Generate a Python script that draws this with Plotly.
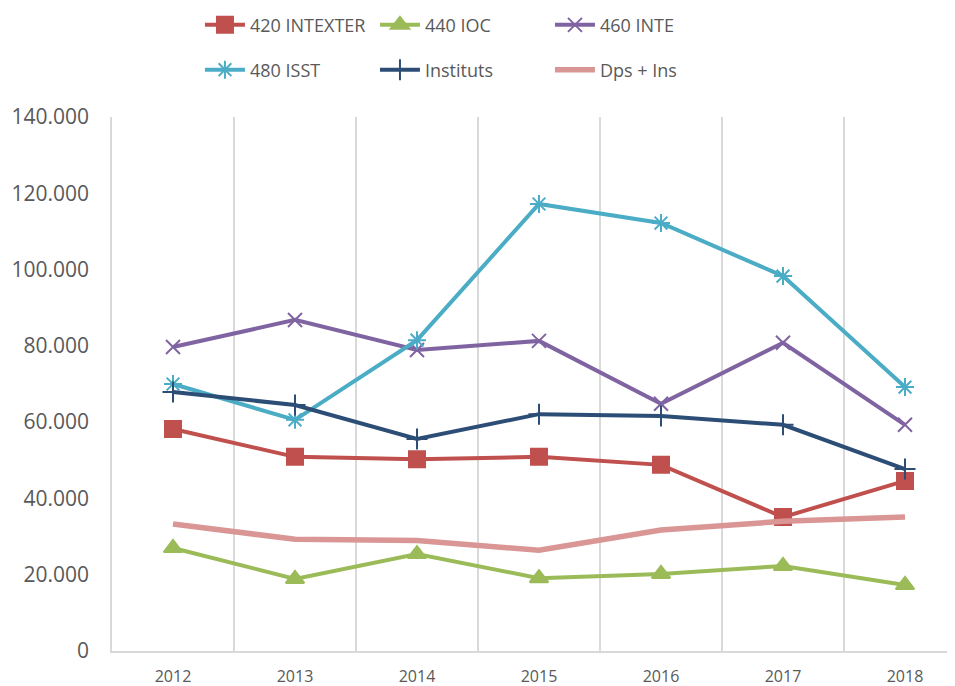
import plotly.graph_objects as go

years = ["2012", "2013", "2014", "2015", "2016", "2017", "2018"]
intexter_420 = [58200, 50900, 50300, 50900, 48800, 35100, 44600]
ioc_440 = [27000, 18900, 25400, 19100, 20200, 22300, 17300]
inte_460 = [79700, 86800, 78900, 81300, 64800, 80800, 59300]
isst_480 = [70000, 60600, 81500, 117200, 112200, 98300, 69200]
instituts = [67900, 64500, 55600, 62100, 61600, 59300, 47700]
dps_ins = [33300, 29300, 29000, 26400, 31700, 34000, 35100]

series = [
    ("420 INTEXTER", intexter_420, "#C0504D", "square", 16, 4, "legend"),
    ("440 IOC", ioc_440, "#9BBB59", "triangle-up", 16, 4, "legend"),
    ("460 INTE", inte_460, "#8064A2", "x-thin-open", 14, 4, "legend"),
    ("480 ISST", isst_480, "#4BACC6", "asterisk-open", 15, 4, "legend2"),
    ("Instituts", instituts, "#2C4D75", "cross-thin-open", 15, 4, "legend2"),
    ("Dps + Ins", dps_ins, "#D99694", None, 0, 5.5, "legend2"),
]

fig = go.Figure()
for name, vals, color, sym, size, lw, leg in series:
    if sym:
        fig.add_trace(go.Scatter(
            x=years, y=vals, name=name, mode="lines+markers",
            line=dict(color=color, width=lw),
            marker=dict(symbol=sym, size=size, color=color,
                        line=dict(color=color, width=2)),
            legend=leg,
        ))
    else:
        fig.add_trace(go.Scatter(
            x=years, y=vals, name=name, mode="lines",
            line=dict(color=color, width=lw),
            legend=leg,
        ))

font_family = "Open Sans, Liberation Sans, sans-serif"
legend_common = dict(
    orientation="h", xanchor="left", yanchor="middle",
    entrywidth=120, entrywidthmode="pixels",
    font=dict(family=font_family, size=18, color="#595959"),
    bgcolor="rgba(0,0,0,0)", itemwidth=40,
)

fig.update_layout(
    width=958, height=686,
    margin=dict(l=104, r=0, t=109, b=43, autoexpand=False),
    paper_bgcolor="white", plot_bgcolor="white",
    separators=",.",
    font=dict(family=font_family, color="#595959"),
    legend=dict(x=0.103, y=1.172, **legend_common),
    legend2=dict(x=0.103, y=1.088, **legend_common),
    xaxis=dict(
        type="category", range=[-0.5, 6.5], automargin=False,
        tickson="boundaries", showgrid=True, gridcolor="#D9D9D9", gridwidth=1.5,
        showline=True, linecolor="#D9D9D9", linewidth=1.5,
        ticks="", ticklabelstandoff=10,
        tickfont=dict(family=font_family, size=16, color="#595959"),
        zeroline=False,
    ),
    yaxis=dict(
        range=[0, 140000], dtick=20000, tickformat=",.0f", automargin=False,
        showgrid=False, showline=True, linecolor="#D9D9D9", linewidth=1.5,
        ticks="", ticklabelstandoff=17, zeroline=False,
        tickfont=dict(family=font_family, size=21, color="#595959"),
    ),
)

fig.write_html("out.html")
